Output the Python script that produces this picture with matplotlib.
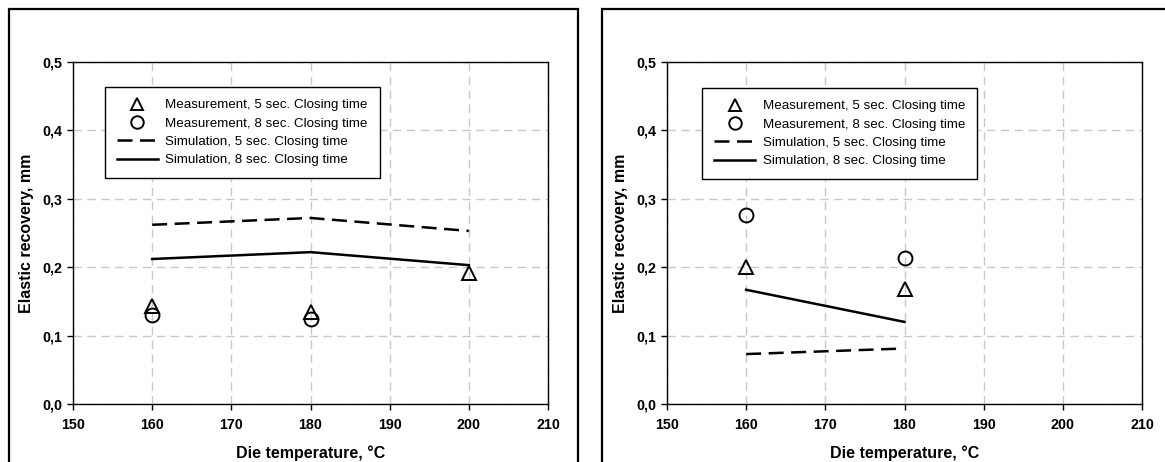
import matplotlib
matplotlib.use("Agg")
import matplotlib.pyplot as plt
from matplotlib.patches import Rectangle
from matplotlib.lines import Line2D
from matplotlib.ticker import FuncFormatter

plt.rcParams['font.family'] = ['Liberation Sans', 'DejaVu Sans']

# Left panel data
temps_left = [160, 180, 200]
meas5_left = [0.143, 0.135, 0.192]
temps_meas8_left = [160, 180]
meas8_left = [0.130, 0.125]
sim5_left = [0.262, 0.272, 0.253]
sim8_left = [0.212, 0.222, 0.203]

# Right panel data
temps_right = [160, 180]
meas5_right = [0.201, 0.168]
meas8_right = [0.277, 0.213]
sim5_temps_right = [160, 179.6]
sim5_right = [0.073, 0.081]
sim8_right = [0.167, 0.120]

xticks = [150, 160, 170, 180, 190, 200, 210]
yticks = [0.0, 0.1, 0.2, 0.3, 0.4, 0.5]
labels = ["Measurement, 5 sec. Closing time",
          "Measurement, 8 sec. Closing time",
          "Simulation, 5 sec. Closing time",
          "Simulation, 8 sec. Closing time"]
xlabel = "Die temperature, \u00b0C"
ylabel = "Elastic recovery, mm"

W, H = 1165, 462
fig = plt.figure(figsize=(W / 100, H / 100), dpi=100)

def fx(px):
    return px / W

def fy(py):
    return 1 - py / H

# outer frames
for x0, x1 in [(9, 578), (602, 1175)]:
    fig.add_artist(Rectangle((fx(x0), fy(480)), fx(x1 - x0), (480 - 9) / H,
                             transform=fig.transFigure, fill=False,
                             edgecolor='black', linewidth=1.6))

def setup(ax):
    ax.set_xlim(150, 210)
    ax.set_ylim(0, 0.5)
    ax.set_xticks(xticks)
    ax.set_yticks(yticks)
    ax.yaxis.set_major_formatter(FuncFormatter(lambda v, p: f"{v:.1f}".replace('.', ',')))
    ax.grid(True, color='#c8c8c8', linestyle=(0, (6, 4)), linewidth=1.0)
    ax.set_axisbelow(True)
    for lab in ax.get_xticklabels() + ax.get_yticklabels():
        lab.set_fontweight('bold')
    ax.tick_params(direction='out', length=4, width=1, labelsize=10.3)
    ax.tick_params(axis='x', pad=6)
    ax.tick_params(axis='y', pad=4)
    for s in ax.spines.values():
        s.set_linewidth(1.0)
        s.set_color('black')
    ax.set_xlabel(xlabel, fontsize=11.5, fontweight='bold', labelpad=10)
    ax.set_ylabel(ylabel, fontsize=11.5, fontweight='bold', labelpad=6)

ms_style = dict(linestyle='none', markerfacecolor='none', markeredgecolor='black',
                markeredgewidth=1.4)
dash = (0, (6, 3))
TRI_MS = 10
CIR_MS = 10

def legend(ax, anchor):
    handles = [
        Line2D([], [], marker='^', markersize=TRI_MS - 1, **ms_style),
        Line2D([], [], marker='o', markersize=CIR_MS - 1, **ms_style),
        Line2D([], [], color='black', linewidth=1.8, linestyle=dash),
        Line2D([], [], color='black', linewidth=1.8),
    ]
    leg = ax.legend(handles, labels, loc='upper left', bbox_to_anchor=anchor,
                    borderaxespad=0,
                    fontsize=9.6, frameon=True, fancybox=False, edgecolor='black',
                    framealpha=1, handlelength=3.1, handletextpad=0.55,
                    labelspacing=0.45, borderpad=0.9)
    leg.get_frame().set_linewidth(1.0)

ax1 = fig.add_axes([fx(73), fy(404), fx(548 - 73), (404 - 62) / H])
ax1.plot(temps_left, sim5_left, color='black', linewidth=1.8, linestyle=dash)
ax1.plot(temps_left, sim8_left, color='black', linewidth=1.8)
ax1.plot(temps_left, meas5_left, marker='^', markersize=TRI_MS, **ms_style)
ax1.plot(temps_meas8_left, meas8_left, marker='o', markersize=CIR_MS, **ms_style)
setup(ax1)
legend(ax1, (0.067, 0.927))

ax2 = fig.add_axes([fx(667), fy(404), fx(1142 - 667), (404 - 62) / H])
ax2.plot(sim5_temps_right, sim5_right, color='black', linewidth=1.8, linestyle=dash)
ax2.plot(temps_right, sim8_right, color='black', linewidth=1.8)
ax2.plot(temps_right, meas5_right, marker='^', markersize=TRI_MS, **ms_style)
ax2.plot(temps_right, meas8_right, marker='o', markersize=CIR_MS, **ms_style)
setup(ax2)
legend(ax2, (0.074, 0.924))

fig.savefig("out.png", dpi=100)
